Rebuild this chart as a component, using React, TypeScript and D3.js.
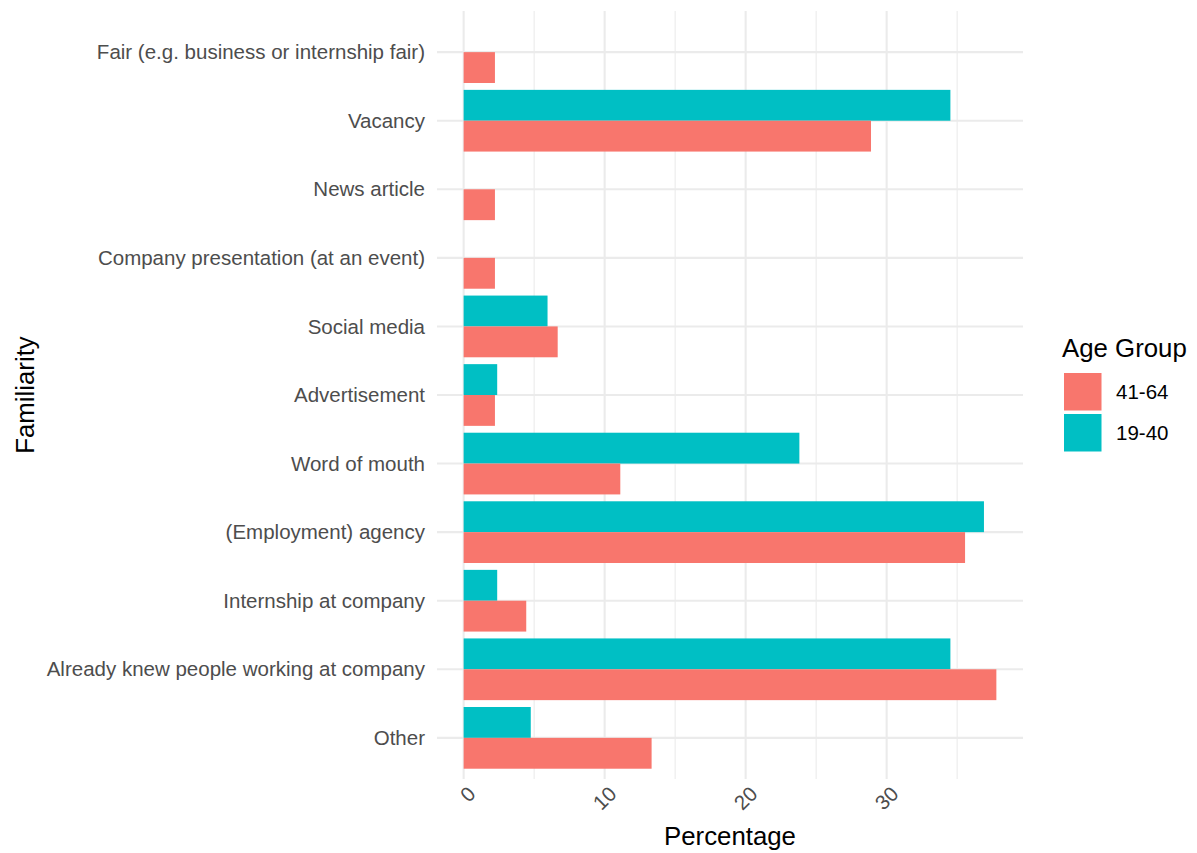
import React from "react";
import * as d3 from "d3";

const categories = [
  "Fair (e.g. business or internship fair)",
  "Vacancy",
  "News article",
  "Company presentation (at an event)",
  "Social media",
  "Advertisement",
  "Word of mouth",
  "(Employment) agency",
  "Internship at company",
  "Already knew people working at company",
  "Other",
];
const groups = ["19-40", "41-64"];
const legendOrder = ["41-64", "19-40"];
const valuesOlder = [2.22, 28.89, 2.22, 2.22, 6.67, 2.22, 11.11, 35.56, 4.44, 37.78, 13.33];
const valuesYounger = [0, 34.52, 0, 0, 5.95, 2.38, 23.81, 36.9, 2.38, 34.52, 4.76];
const xTicks = [0, 10, 20, 30];
const xMinor = [5, 15, 25, 35];
const colors: Record<string, string> = { "41-64": "#F8766D", "19-40": "#00BFC4" };

const W = 1197, H = 853;
const panel = { left: 437, right: 1023, top: 11, bottom: 779 };
const FONT = "'Liberation Sans', Arial, Helvetica, sans-serif";
const SMALL = 20.5;
const BIG = 25.8;

export default function App() {
  const maxV = d3.max([...valuesOlder, ...valuesYounger]) as number;
  const pad = maxV * 0.05;
  const x = d3.scaleLinear().domain([-pad, maxV + pad]).range([panel.left, panel.right]);
  const y = d3.scaleBand().domain(categories).range([panel.top, panel.bottom]).paddingInner(0.1).paddingOuter(0.15);
  const yInner = d3.scaleBand().domain(groups).range([0, y.bandwidth()]);

  const rows = categories.map((c, i) => ({ c, vals: { "41-64": valuesOlder[i], "19-40": valuesYounger[i] } as Record<string, number> }));

  return (
    <svg width={W} height={H} style={{ position: "absolute", left: 0, top: 0, background: "#fff" }} fontFamily={FONT}>
      {/* grid */}
      {xMinor.map((t) => (
        <line key={"m" + t} x1={x(t)} x2={x(t)} y1={panel.top} y2={panel.bottom} stroke="#EBEBEB" strokeWidth={1.1} />
      ))}
      {xTicks.map((t) => (
        <line key={"M" + t} x1={x(t)} x2={x(t)} y1={panel.top} y2={panel.bottom} stroke="#EBEBEB" strokeWidth={2.1} />
      ))}
      {categories.map((c) => {
        const cy = (y(c) as number) + y.bandwidth() / 2;
        return <line key={"h" + c} x1={panel.left} x2={panel.right} y1={cy} y2={cy} stroke="#EBEBEB" strokeWidth={2.1} />;
      })}
      {/* bars */}
      {rows.map((r) =>
        groups.map((g) => {
          const v = r.vals[g];
          if (!v) return null;
          return (
            <rect
              key={r.c + g}
              x={x(0)}
              y={(y(r.c) as number) + (yInner(g) as number)}
              width={x(v) - x(0)}
              height={yInner.bandwidth()}
              fill={colors[g]}
            />
          );
        })
      )}
      {/* y labels */}
      {categories.map((c) => {
        const cy = (y(c) as number) + y.bandwidth() / 2;
        return (
          <text key={"l" + c} x={panel.left - 12} y={cy} dy="0.35em" textAnchor="end" fontSize={SMALL} fill="#4D4D4D">
            {c}
          </text>
        );
      })}
      {/* x tick labels */}
      {xTicks.map((t) => (
        <text
          key={"t" + t}
          transform={`translate(${x(t) + 8},${790}) rotate(-45)`}
          dy="0.35em"
          textAnchor="end"
          fontSize={SMALL}
          fill="#4D4D4D"
        >
          {t}
        </text>
      ))}
      {/* axis titles */}
      <text x={(panel.left + panel.right) / 2} y={845} textAnchor="middle" fontSize={BIG} fill="#000">
        Percentage
      </text>
      <text transform={`translate(34,${(panel.top + panel.bottom) / 2}) rotate(-90)`} textAnchor="middle" fontSize={BIG} fill="#000">
        Familiarity
      </text>
      {/* legend */}
      <text x={1062} y={357} fontSize={BIG} fill="#000">Age Group</text>
      {legendOrder.map((g, i) => {
        const ky = 373 + i * 41;
        return (
          <g key={"lg" + g}>
            <rect x={1064} y={ky} width={37.5} height={37.5} fill={colors[g]} />
            <text x={1116} y={ky + 18.75} dy="0.35em" fontSize={SMALL} fill="#000">{g}</text>
          </g>
        );
      })}
    </svg>
  );
}
